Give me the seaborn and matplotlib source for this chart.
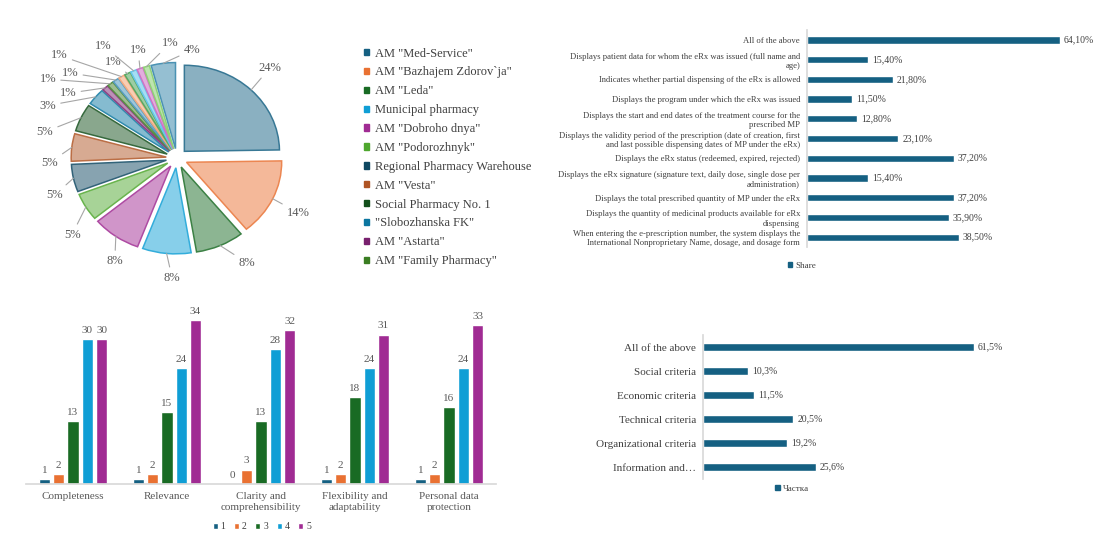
import numpy as np
import pandas as pd
import matplotlib
matplotlib.use("Agg")
import matplotlib.pyplot as plt
from matplotlib.colors import to_rgb
import seaborn as sns

# Data
pharmacies = ['AM "Med-Service"', 'AM "Bazhajem Zdorov`ja"', 'AM "Leda"', 'Municipal pharmacy',
              'AM "Dobroho dnya"', 'AM "Podorozhnyk"', 'Regional Pharmacy Warehouse', 'AM "Vesta"',
              'Social Pharmacy No. 1', '"Slobozhanska FK"', 'AM "Astarta"', 'AM "Family Pharmacy"']
pharmacy_share = [24, 14, 8, 8, 8, 5, 5, 5, 5, 3, 1, 1, 1, 1, 1, 1, 1, 1, 4]

erx_features = [
    "All of the above",
    "Displays patient data for whom the eRx was issued (full name and\nage)",
    "Indicates whether partial dispensing of the eRx is allowed",
    "Displays the program under which the eRx was issued",
    "Displays the start and end dates of the treatment course for the\nprescribed MP",
    "Displays the validity period of the prescription (date of creation, first\nand last possible dispensing dates of MP under the eRx)",
    "Displays the eRx status (redeemed, expired, rejected)",
    "Displays the eRx signature (signature text, daily dose, single dose per\nadministration)",
    "Displays the total prescribed quantity of MP under the eRx",
    "Displays the quantity of medicinal products available for eRx\ndispensing",
    "When entering the e-prescription number, the system displays the\nInternational Nonproprietary Name, dosage, and dosage form",
]
erx_share = [64.1, 15.4, 21.8, 11.5, 12.8, 23.1, 37.2, 15.4, 37.2, 35.9, 38.5]

criteria = ["Completeness", "Relevance", "Clarity and\ncomprehensibility",
            "Flexibility and\nadaptability", "Personal data\nprotection"]
scores = ["1", "2", "3", "4", "5"]
score_1 = [1, 1, 0, 1, 1]
score_2 = [2, 2, 3, 2, 2]
score_3 = [13, 15, 13, 18, 16]
score_4 = [30, 24, 28, 24, 24]
score_5 = [30, 34, 32, 31, 33]

groups = ["All of the above", "Social criteria", "Economic criteria", "Technical criteria",
          "Organizational criteria", "Information and\u2026"]
group_share = [61.5, 10.3, 11.5, 20.5, 19.2, 25.6]

# Style
BAR = "#156082"
SCORE_COLORS = ["#156082", "#E97132", "#196B24", "#0F9ED5", "#A02B93"]
PIE_COLORS = ["#156082", "#E97132", "#196B24", "#0F9ED5", "#A02B93", "#4EA72E",
              "#0E4761", "#AF5424", "#124F1B", "#0B76A0", "#78206E", "#3A7D22",
              "#3B8CB5", "#F09A68", "#3A9A48", "#4CBCE8", "#C65ABB", "#7BC95E", "#2A7FA5"]
# label placement (pie units, x/y) for the percentage labels
PIE_LABEL_XY = [(0.96, 1.03), (1.25, -0.62), (0.72, -1.19), (-0.05, -1.36), (-0.64, -1.17),
                (-1.08, -0.87), (-1.26, -0.42), (-1.31, -0.05), (-1.36, 0.30), (-1.33, 0.60),
                (-1.12, 0.74), (-1.33, 0.90), (-1.10, 0.97), (-1.21, 1.17), (-0.66, 1.09),
                (-0.76, 1.28), (-0.40, 1.23), (-0.07, 1.31), (0.155, 1.23)]
TXT = "#404040"
GRID = "#D9D9D9"

sns.set_theme(style="white")
plt.rcParams["font.family"] = ["Liberation Serif", "DejaVu Serif"]


def wash(c, amount=0.5):
    r, g, b = to_rgb(c)
    return (r + (1 - r) * amount, g + (1 - g) * amount, b + (1 - b) * amount)


def pct(v, digits):
    return f"{v:.{digits}f}%".replace(".", ",")


def square_legend(label, xy, fig):
    h = plt.Rectangle((0, 0), 1, 1, color=BAR)
    fig.legend([h], [label], loc="center", bbox_to_anchor=xy, frameon=False, fontsize=6.5,
               handlelength=0.5, handleheight=0.5, handletextpad=0.3, labelcolor=TXT)


fig = plt.figure(figsize=(11, 5.6), dpi=100)

# Pie
ax_pie = fig.add_axes([0.0373, 0.498, 0.247, 0.439])
explode = [0.11] * len(pharmacy_share)
wedges, _ = ax_pie.pie(pharmacy_share, colors=[wash(c, 0.5) for c in PIE_COLORS], startangle=90,
                       counterclock=False, explode=explode, radius=0.98,
                       wedgeprops=dict(linewidth=1.1))
for w, c in zip(wedges, PIE_COLORS):
    w.set_edgecolor(wash(c, 0.15))
ax_pie.set_aspect("auto")
ax_pie.set_xlim(-1.4, 1.4)
ax_pie.set_ylim(-1.4, 1.4)
for w, v, (lx, ly), e in zip(wedges, pharmacy_share, PIE_LABEL_XY, explode):
    mid = np.deg2rad((w.theta1 + w.theta2) / 2)
    ex, ey = (0.98 + e) * np.cos(mid), (0.98 + e) * np.sin(mid)
    ax_pie.annotate(f"{v}%", xy=(ex, ey), xytext=(lx, ly), ha="center", va="center",
                    fontsize=9, color="#595959", annotation_clip=False,
                    arrowprops=dict(arrowstyle="-", color="#A6A6A6", lw=0.8,
                                    shrinkA=1, shrinkB=0))

leg_handles = [plt.Rectangle((0, 0), 1, 1, color=c) for c in PIE_COLORS[:len(pharmacies)]]
fig.legend(leg_handles, pharmacies, loc="upper left", bbox_to_anchor=(0.331, 0.915),
           frameon=False, fontsize=9, labelcolor=TXT, handlelength=0.4, handleheight=0.4,
           handletextpad=0.45, labelspacing=0.55, borderpad=0, borderaxespad=0)

# eRx features
ax1 = fig.add_axes([0.7336, 0.5589, 0.2509, 0.3875])
sns.barplot(x=erx_share, y=erx_features, orient="h", color=BAR, width=0.37,
            saturation=1, ax=ax1)
ax1.set_xlim(0, 70)
ax1.bar_label(ax1.containers[0], labels=[pct(v, 2) for v in erx_share], padding=3,
              fontsize=7, color=TXT)
ax1.tick_params(axis="y", length=0, pad=5, labelsize=6.2, labelcolor=TXT)
ax1.set_xticks([])
sns.despine(ax=ax1, bottom=True)
ax1.spines["left"].set_color(GRID)
ax1.set_xlabel("")
square_legend("Share", (0.729, 0.525), fig)

# Scores
df = pd.DataFrame({
    "criterion": criteria * 5,
    "score": [s for s in scores for _ in criteria],
    "count": score_1 + score_2 + score_3 + score_4 + score_5,
})
ax2 = fig.add_axes([0.0236, 0.1357, 0.4273, 0.3107])
sns.barplot(data=df, x="criterion", y="count", hue="score", palette=SCORE_COLORS,
            width=0.76, gap=0.2, saturation=1, ax=ax2)
ax2.set_ylim(0, 36.1)
ax2.set_xlim(-0.5, 4.5)
for cont in ax2.containers:
    ax2.bar_label(cont, fmt="%d", padding=3, fontsize=8, color="#595959")
ax2.set_yticks([])
ax2.set_xlabel("")
ax2.set_ylabel("")
ax2.tick_params(axis="x", length=0, pad=6, labelsize=8, labelcolor="#595959")
sns.despine(ax=ax2, left=True)
ax2.spines["bottom"].set_color(GRID)
ax2.legend(loc="center", bbox_to_anchor=(0.238, 0.059), bbox_transform=fig.transFigure,
           ncol=5, frameon=False, fontsize=7, handlelength=0.5, handleheight=0.5,
           handletextpad=0.3, columnspacing=0.9, labelcolor=TXT)

# Criteria groups
ax3 = fig.add_axes([0.639, 0.1446, 0.2791, 0.2571])
sns.barplot(x=group_share, y=groups, orient="h", color=BAR, width=0.35,
            saturation=1, ax=ax3)
ax3.set_xlim(0, 69.7)
ax3.bar_label(ax3.containers[0], labels=[pct(v, 1) for v in group_share], padding=3,
              fontsize=7, color=TXT)
ax3.tick_params(axis="y", length=0, pad=5, labelsize=8, labelcolor=TXT)
ax3.set_xticks([])
sns.despine(ax=ax3, bottom=True)
ax3.spines["left"].set_color(GRID)
square_legend("Частка", (0.72, 0.127), fig)

fig.savefig("out.png", dpi=100, facecolor="white")
